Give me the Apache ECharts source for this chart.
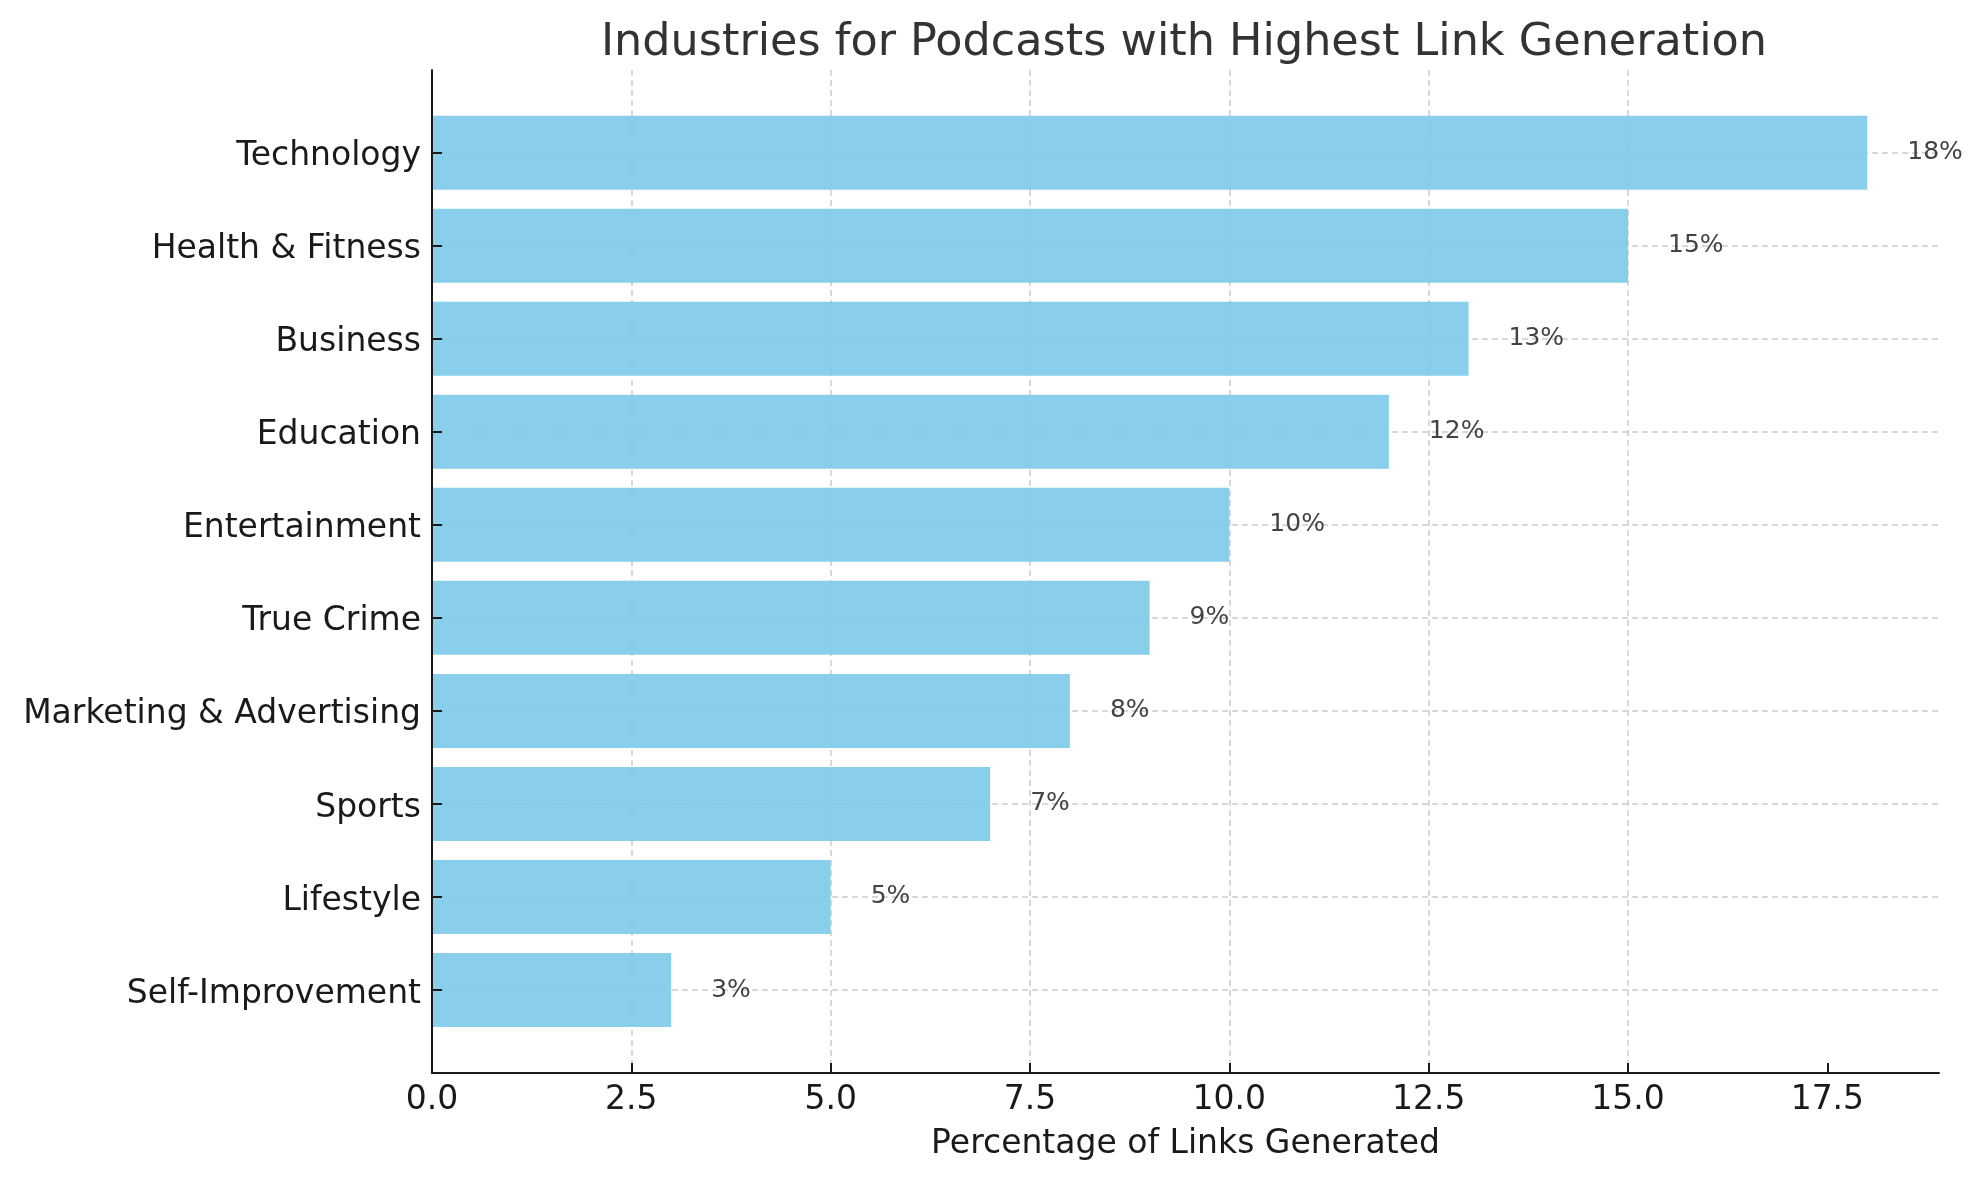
<!DOCTYPE html>
<html>
<head>
<meta charset="utf-8">
<script src="https://cdn.jsdelivr.net/npm/echarts@6/dist/echarts.min.js"></script>
<style>
  html, body { margin: 0; padding: 0; background: #ffffff; }
  #chart { width: 1980px; height: 1180px; }
</style>
</head>
<body>
<div id="chart"></div>
<script>
const titleText = 'Industries for Podcasts with Highest Link Generation';
const xAxisTitle = 'Percentage of Links Generated';
const categories = ['Technology', 'Health & Fitness', 'Business', 'Education', 'Entertainment',
  'True Crime', 'Marketing & Advertising', 'Sports', 'Lifestyle', 'Self-Improvement'];
const values = [18, 15, 13, 12, 10, 9, 8, 7, 5, 3];
const xTicks = [0, 2.5, 5, 7.5, 10, 12.5, 15, 17.5];
const xMax = 18.9;

const FONT = 'DejaVu Sans';
const chart = echarts.init(document.getElementById('chart'), null, { renderer: 'canvas' });

const option = {
  animation: false,
  backgroundColor: '#ffffff',
  title: {
    text: titleText,
    left: 1179,
    textAlign: 'center',
    top: 16,
    textStyle: { fontFamily: FONT, fontSize: 44.5, fontWeight: 'normal', color: '#333333' }
  },
  grid: [
    { left: 432, right: 41, top: 152.7, bottom: 190 },
    { left: 432, right: 41, top: 70, bottom: 107 }
  ],
  xAxis: [
    { gridIndex: 0, type: 'value', min: 0, max: xMax, show: false },
    {
      gridIndex: 1, type: 'value', min: 0, max: xMax, interval: 2.5,
      axisLine: { show: true, onZero: false, lineStyle: { color: '#1a1a1a', width: 2 } },
      axisTick: { show: true, inside: true, length: 10, customValues: xTicks, lineStyle: { color: '#1a1a1a', width: 2 } },
      axisLabel: {
        customValues: xTicks, formatter: v => Number(v).toFixed(1),
        fontFamily: FONT, fontSize: 33, color: '#1a1a1a', margin: 11
      },
      splitLine: { show: true, showMinLine: false, showMaxLine: false, lineStyle: { type: [6, 4], color: '#cccccc', width: 1.5 } },
      name: xAxisTitle,
      nameLocation: 'middle',
      nameGap: 55,
      nameTextStyle: { fontFamily: FONT, fontSize: 33, color: '#1a1a1a' }
    }
  ],
  yAxis: [
    {
      gridIndex: 0, type: 'category', data: categories, inverse: true, boundaryGap: false, z: 5,
      axisLine: { show: false },
      axisTick: { show: true, inside: true, length: 10, lineStyle: { color: '#1a1a1a', width: 2 } },
      axisLabel: { fontFamily: FONT, fontSize: 33, color: '#1a1a1a', margin: 11, verticalAlign: 'top', lineHeight: 8 },
      splitLine: { show: false }
    },
    {
      gridIndex: 1, type: 'value', min: 0, max: 1, z: 5,
      axisLine: { show: true, onZero: false, lineStyle: { color: '#1a1a1a', width: 2 } },
      axisTick: { show: false }, axisLabel: { show: false }, splitLine: { show: false }
    },
    {
      gridIndex: 0, type: 'category', data: categories, inverse: true, boundaryGap: false, position: 'right', z: 0,
      axisLine: { show: false }, axisTick: { show: false }, axisLabel: { show: false },
      splitLine: { show: true, lineStyle: { type: [6, 4], color: '#cccccc', width: 1.5 } }
    }
  ],
  series: [{
    type: 'bar',
    xAxisIndex: 0,
    yAxisIndex: 0,
    data: values,
    barWidth: 74,
    clip: false,
    z: 2,
    itemStyle: { color: '#7FCBEA', opacity: 0.92 },
    label: {
      show: true, position: 'right', distance: 40,
      formatter: '{c}%', fontFamily: FONT, fontSize: 25, color: '#333333'
    }
  }]
};
chart.setOption(option);
</script>
</body>
</html>
